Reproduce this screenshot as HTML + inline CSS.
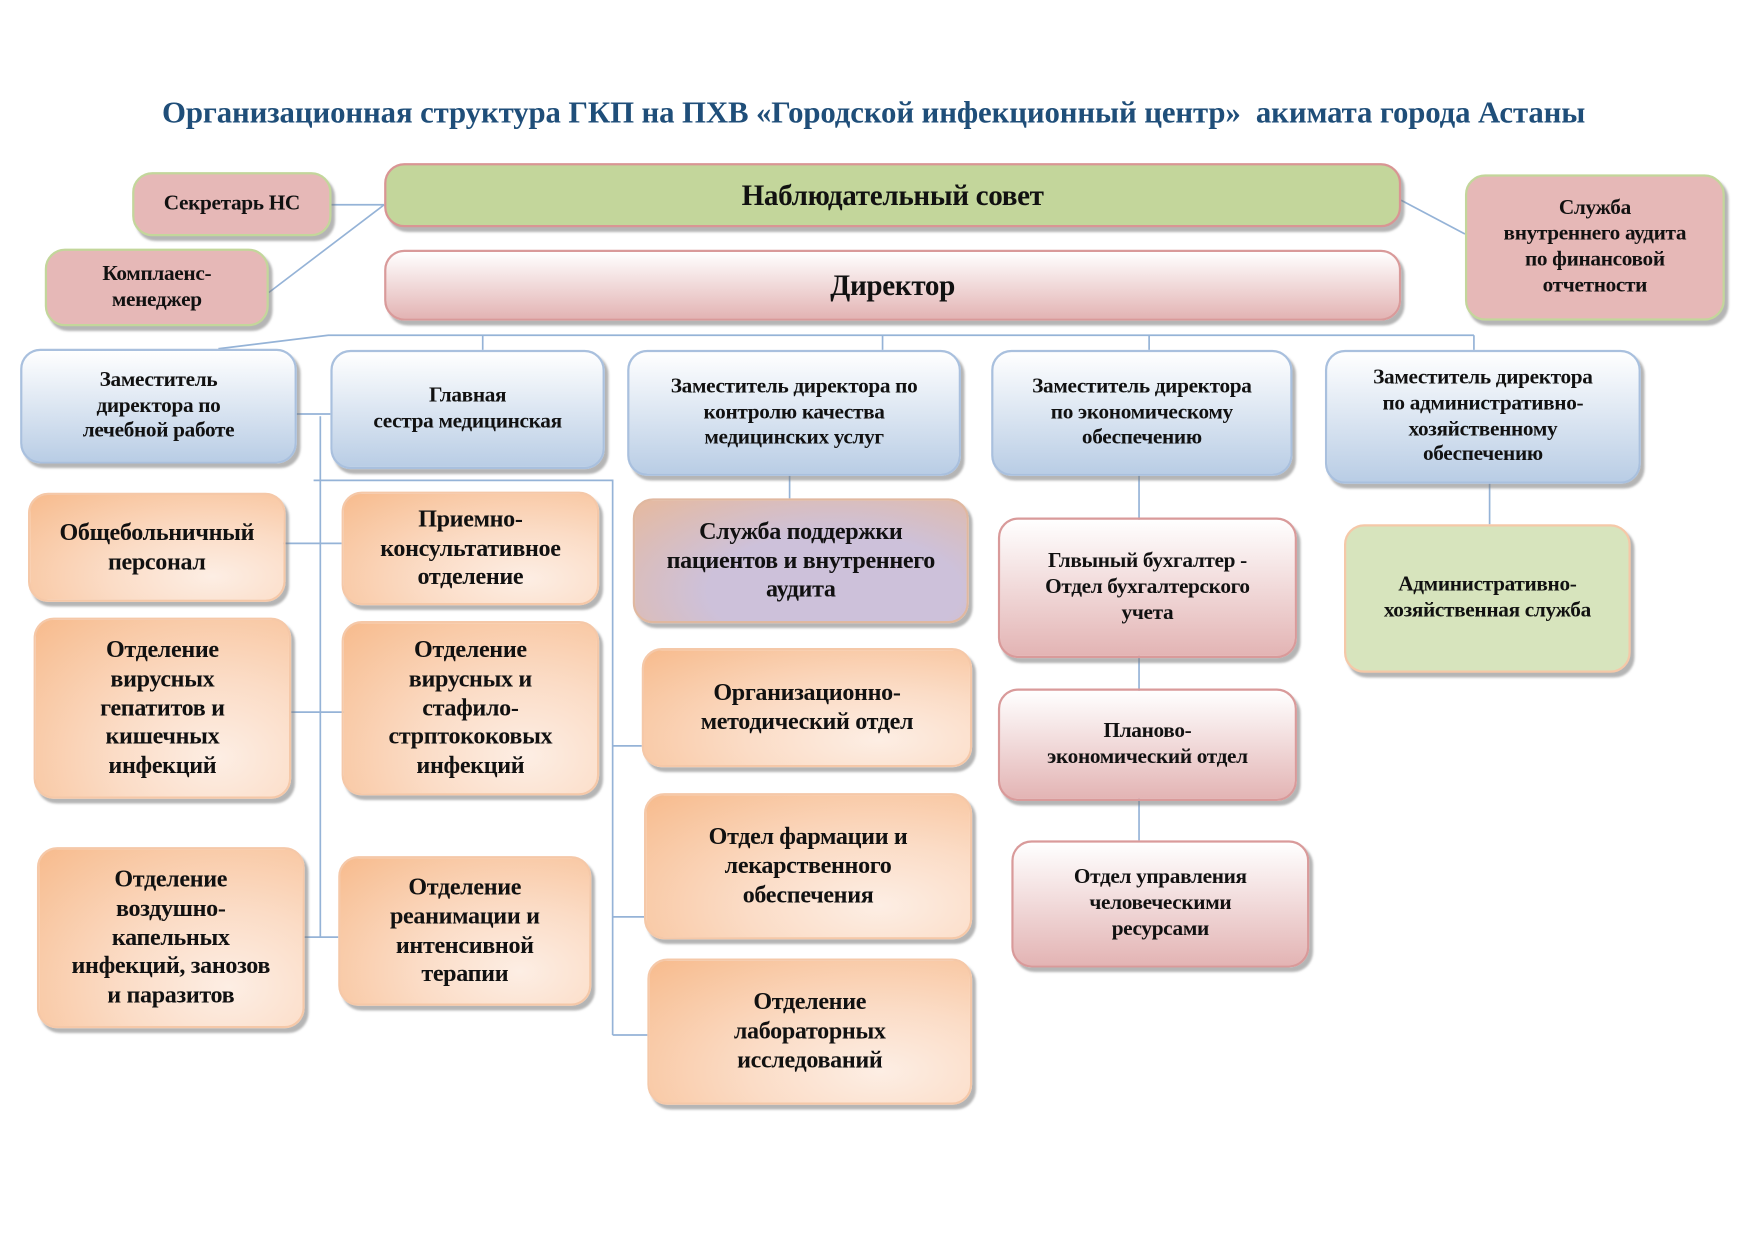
<!DOCTYPE html>
<html><head><meta charset="utf-8"><style>
html,body{margin:0;padding:0;background:#fff;width:1755px;height:1240px;overflow:hidden}
#w{position:absolute;left:0;top:0;width:1560px;height:1102px;transform:scale(1.12,1.125);transform-origin:0 0;font-family:"Liberation Serif",serif;font-weight:bold;color:#111}
.b{position:absolute;box-sizing:border-box;border-radius:18px;display:flex;align-items:center;justify-content:center;text-align:center;box-shadow:3px 4px 2px rgba(120,120,120,.55);line-height:1.2;letter-spacing:-0.3px}
.bl{background:linear-gradient(#fff,#b9cde5);border:2px solid #a9c0de;font-size:19px;line-height:1.2}
.or{background:radial-gradient(ellipse at 72% 78%,#fdeee4 0%,#fbdcc6 40%,#f7bb8d 100%);border:2px solid #f5c8a8;font-size:21.5px}
.pk{background:linear-gradient(#fff,#e3b4b4);border:2px solid #d99a9a;font-size:19px;line-height:1.2}
.gr{background:#c3d69b;border:2px solid #d99594}
.rs{background:#e6b8b7;border:2px solid #c3d69b;font-size:19px;line-height:1.2}
svg{position:absolute;left:0;top:0}
.t{position:absolute;left:0;width:1560px;top:84px;text-align:center;font-size:27.5px;color:#1f4e79;letter-spacing:-0.1px}
</style></head><body><div id="w">
<div class="t">Организационная структура ГКП на ПХВ «Городской инфекционный центр»&nbsp; акимата города Астаны</div>
<svg width="1560" height="1102" fill="none" stroke="#95b3d7" stroke-width="1.5">
<path d="M296 182H343M240 260L343 182M1251 178L1308 208"/>
<path d="M195 310L293 298H1316M431 298V311M788 298V311M1026 298V311M1316 298V311"/>
<path d="M265 368H295M286 370V833M280 427H547V920M547 663H573M547 815H575M547 920H578M230 483H305M260 633H322M272 833H302"/>
<path d="M705 423V443M1017 423V747M1330 430V466M1396 365V410"/>
</svg>
<div class="b rs" style="left:118px;top:153px;width:178px;height:57px">Секретарь НС</div>
<div class="b rs" style="left:40px;top:221px;width:200px;height:69px">Комплаенс-<br>менеджер</div>
<div class="b gr" style="left:343px;top:145px;width:908px;height:57px;font-size:26px">Наблюдательный совет</div>
<div class="b pk" style="left:343px;top:222px;width:908px;height:63px;font-size:26px">Директор</div>
<div class="b rs" style="left:1308px;top:155px;width:232px;height:130px">Служба<br>внутреннего аудита<br>по финансовой<br>отчетности</div>

<div class="b bl" style="left:18px;top:310px;width:247px;height:102px">Заместитель<br>директора по<br>лечебной работе</div>
<div class="b bl" style="left:295px;top:311px;width:245px;height:106px">Главная<br>сестра медицинская</div>
<div class="b bl" style="left:560px;top:311px;width:298px;height:112px">Заместитель директора по<br>контролю качества<br>медицинских услуг</div>
<div class="b bl" style="left:885px;top:311px;width:269px;height:112px">Заместитель директора<br>по экономическому<br>обеспечению</div>
<div class="b bl" style="left:1183px;top:311px;width:282px;height:119px">Заместитель директора<br>по административно-<br>хозяйственному<br>обеспечению</div>

<div class="b or" style="left:25px;top:438px;width:230px;height:97px">Общебольничный<br>персонал</div>
<div class="b or" style="left:305px;top:437px;width:230px;height:101px">Приемно-<br>консультативное<br>отделение</div>
<div class="b or" style="left:30px;top:549px;width:230px;height:161px">Отделение<br>вирусных<br>гепатитов и<br>кишечных<br>инфекций</div>
<div class="b or" style="left:305px;top:552px;width:230px;height:155px">Отделение<br>вирусных и<br>стафило-<br>стрптококовых<br>инфекций</div>
<div class="b or" style="left:33px;top:753px;width:239px;height:161px">Отделение<br>воздушно-<br>капельных<br>инфекций, занозов<br>и паразитов</div>
<div class="b or" style="left:302px;top:761px;width:226px;height:133px">Отделение<br>реанимации и<br>интенсивной<br>терапии</div>

<div class="b" style="left:565px;top:443px;width:300px;height:111px;background:radial-gradient(ellipse at 60% 75%,#cdc1da 0%,#cdc1da 45%,#e6b99e 100%);border:2px solid #e0b8a0;font-size:21.5px">Служба поддержки<br>пациентов и внутреннего<br>аудита</div>
<div class="b or" style="left:573px;top:576px;width:295px;height:106px">Организационно-<br>методический отдел</div>
<div class="b or" style="left:575px;top:705px;width:293px;height:130px">Отдел фармации и<br>лекарственного<br>обеспечения</div>
<div class="b or" style="left:578px;top:852px;width:290px;height:130px">Отделение<br>лабораторных<br>исследований</div>

<div class="b pk" style="left:891px;top:460px;width:267px;height:125px">Глвыный бухгалтер -<br>Отдел бухгалтерского<br>учета</div>
<div class="b pk" style="left:891px;top:612px;width:267px;height:100px">Планово-<br>экономический отдел</div>
<div class="b pk" style="left:903px;top:747px;width:266px;height:113px">Отдел управления<br>человеческими<br>ресурсами</div>

<div class="b" style="left:1200px;top:466px;width:256px;height:132px;background:#d7e4bd;border:2px solid #f5c8a8;font-size:19px;line-height:1.2">Административно-<br>хозяйственная служба</div>
</div></body></html>
